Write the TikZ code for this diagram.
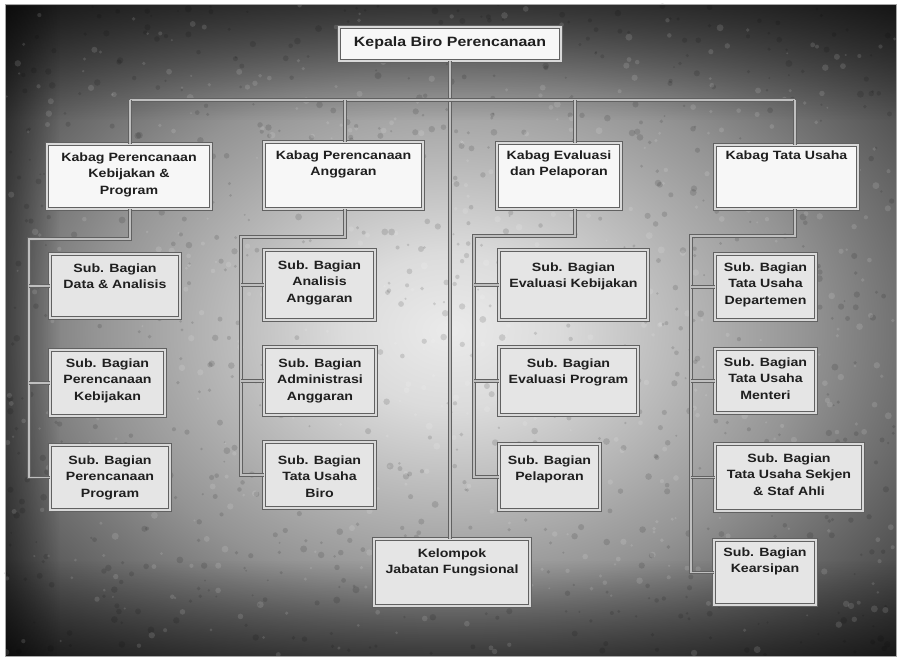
\documentclass[tikz,border=0pt]{standalone}
\usepackage{fontspec}
\usetikzlibrary{fadings}
\newfontfamily\chartfont[FakeStretch=1.18]{Liberation Sans}
\pgfdeclareradialshading{bgshade}{\pgfpoint{0bp}{0bp}}{%
  color(0bp)=(white!92!black); color(6bp)=(white!86!black);
  color(13bp)=(white!72!black); color(20bp)=(white!58!black);
  color(25bp)=(black!55); color(35bp)=(black!80); color(50bp)=(black!85)}
\tikzset{
  bx/.style={draw=black!62, line width=0.8pt, double=gray!30, double distance=1.8pt,
             fill=white!90!black, inner sep=0pt},
  kbx/.style={bx, fill=white!97!black},
  txt/.style={font=\chartfont\bfseries\fontsize{12}{16.6}\selectfont, align=center,
              text=black!88, inner sep=0pt, anchor=north},
  ttxt/.style={txt, font=\chartfont\bfseries\fontsize{13.5}{16}\selectfont, anchor=center},
  ln/.style={draw=black!62, line width=0.9pt, double=gray!50, double distance=1.5pt}
}
\begin{document}
\begin{tikzpicture}[x=1pt,y=-1pt]
\useasboundingbox (0,0) rectangle (900,660);
% background
\fill[white] (0,0) rectangle (900,660);
\shade[shading=bgshade] (5,5) rectangle (896,656);
\fill[black, opacity=0.55, path fading=south] (5,5) rectangle (896,120);
\fill[black, opacity=0.5, path fading=north] (5,560) rectangle (896,656);
\fill[black, opacity=0.45, path fading=east] (5,5) rectangle (60,656);
\pgfmathsetseed{11}
\foreach \i in {1,...,900}{
  \pgfmathsetmacro\px{5+rnd*890}
  \pgfmathsetmacro\py{5+rnd*650}
  \pgfmathsetmacro\pr{1+rnd*2.5}
  \fill[black, opacity=0.12] (\px,\py) circle (\pr);
}
\foreach \i in {1,...,600}{
  \pgfmathsetmacro\px{5+rnd*890}
  \pgfmathsetmacro\py{5+rnd*650}
  \pgfmathsetmacro\pr{1+rnd*2.5}
  \fill[white, opacity=0.12] (\px,\py) circle (\pr);
}
\draw[gray!70, line width=1pt] (5,5) rectangle (896,656);

% boxes
\node[kbx, minimum width=222pt, minimum height=34pt] (top) at (450,44) {};
\node[kbx, minimum width=164pt, minimum height=65pt] (k1) at (129,176.5) {};
\node[kbx, minimum width=159pt, minimum height=67pt] (k2) at (343.5,175.5) {};
\node[kbx, minimum width=124pt, minimum height=66pt] (k3) at (559,176) {};
\node[kbx, minimum width=143pt, minimum height=64pt] (k4) at (786.5,177) {};

\node[bx, minimum width=130pt, minimum height=64pt] (s11) at (115,286) {};
\node[bx, minimum width=115pt, minimum height=66pt] (s12) at (107.5,383) {};
\node[bx, minimum width=120pt, minimum height=65pt] (s13) at (110,477.5) {};
\node[bx, minimum width=111pt, minimum height=70pt] (s21) at (319.5,285) {};
\node[bx, minimum width=112pt, minimum height=68pt] (s22) at (320,381) {};
\node[bx, minimum width=111pt, minimum height=66pt] (s23) at (319.5,475) {};
\node[bx, minimum width=149pt, minimum height=70pt] (s31) at (573.5,285) {};
\node[bx, minimum width=139pt, minimum height=68pt] (s32) at (568.5,381) {};
\node[bx, minimum width=101pt, minimum height=66pt] (s33) at (549.5,477) {};
\node[bx, minimum width=101pt, minimum height=66pt] (s41) at (765.5,287) {};
\node[bx, minimum width=101pt, minimum height=64pt] (s42) at (765.5,381) {};
\node[bx, minimum width=148pt, minimum height=67pt] (s43) at (789,477.5) {};
\node[bx, minimum width=102pt, minimum height=65pt] (s44) at (765,572.5) {};
\node[bx, minimum width=156pt, minimum height=67pt] (bot) at (452,572.5) {};

% texts
\node[ttxt] (topt) at (450,43) {Kepala Biro Perencanaan};
\node[txt] (k1t) at (129,152.4) {Kabag Perencanaan\\Kebijakan \&\\Program};
\node[txt] (k2t) at (343.5,150.4) {Kabag Perencanaan\\Anggaran};
\node[txt] (k3t) at (559,150.4) {Kabag Evaluasi\\dan Pelaporan};
\node[txt] (k4t) at (786.5,150.4) {Kabag Tata Usaha};

\node[txt] (s11t) at (115,263.4) {Sub. Bagian\\Data \& Analisis};
\node[txt] (s12t) at (107.5,358.4) {Sub. Bagian\\Perencanaan\\Kebijakan};
\node[txt] (s13t) at (110,455.4) {Sub. Bagian\\Perencanaan\\Program};
\node[txt] (s21t) at (319.5,260.4) {Sub. Bagian\\Analisis\\Anggaran};
\node[txt] (s22t) at (320,358.4) {Sub. Bagian\\Administrasi\\Anggaran};
\node[txt] (s23t) at (319.5,455.4) {Sub. Bagian\\Tata Usaha\\Biro};
\node[txt] (s31t) at (573.5,262.4) {Sub. Bagian\\Evaluasi Kebijakan};
\node[txt] (s32t) at (568.5,358.4) {Sub. Bagian\\Evaluasi Program};
\node[txt] (s33t) at (549.5,455.4) {Sub. Bagian\\Pelaporan};
\node[txt] (s41t) at (765.5,262.4) {Sub. Bagian\\Tata Usaha\\Departemen};
\node[txt] (s42t) at (765.5,357.4) {Sub. Bagian\\Tata Usaha\\Menteri};
\node[txt] (s43t) at (789,453.4) {Sub. Bagian\\Tata Usaha Sekjen\\\& Staf Ahli};
\node[txt] (s44t) at (765,547.4) {Sub. Bagian\\Kearsipan};
\node[txt] (bott) at (452,548.4) {Kelompok\\Jabatan Fungsional};

% connector coordinates
\coordinate (d1) at (130,100);
\coordinate (d2) at (345,100);
\coordinate (d3) at (575,100);
\coordinate (d4) at (795,100);
\coordinate (v1) at (29,239);
\coordinate (v2) at (241,237);
\coordinate (v3) at (474,236);
\coordinate (v4) at (691,236);

% connectors
\draw[ln] (top.south) -- (top.south |- bot.north);
\draw[ln] (d1) -- (d4);
\draw[ln] (d1) -- (d1 |- k1.north);
\draw[ln] (d2) -- (d2 |- k2.north);
\draw[ln] (d3) -- (d3 |- k3.north);
\draw[ln] (d4) -- (d4 |- k4.north);

\draw[ln] (d1 |- k1.south) |- (v1) |- (s13.west);
\draw[ln] (v1 |- s11.west) -- (s11.west);
\draw[ln] (v1 |- s12.west) -- (s12.west);

\draw[ln] (d2 |- k2.south) |- (v2) |- (s23.west);
\draw[ln] (v2 |- s21.west) -- (s21.west);
\draw[ln] (v2 |- s22.west) -- (s22.west);

\draw[ln] (d3 |- k3.south) |- (v3) |- (s33.west);
\draw[ln] (v3 |- s31.west) -- (s31.west);
\draw[ln] (v3 |- s32.west) -- (s32.west);

\draw[ln] (d4 |- k4.south) |- (v4) |- (s44.west);
\draw[ln] (v4 |- s41.west) -- (s41.west);
\draw[ln] (v4 |- s42.west) -- (s42.west);
\draw[ln] (v4 |- s43.west) -- (s43.west);
\end{tikzpicture}
\end{document}
